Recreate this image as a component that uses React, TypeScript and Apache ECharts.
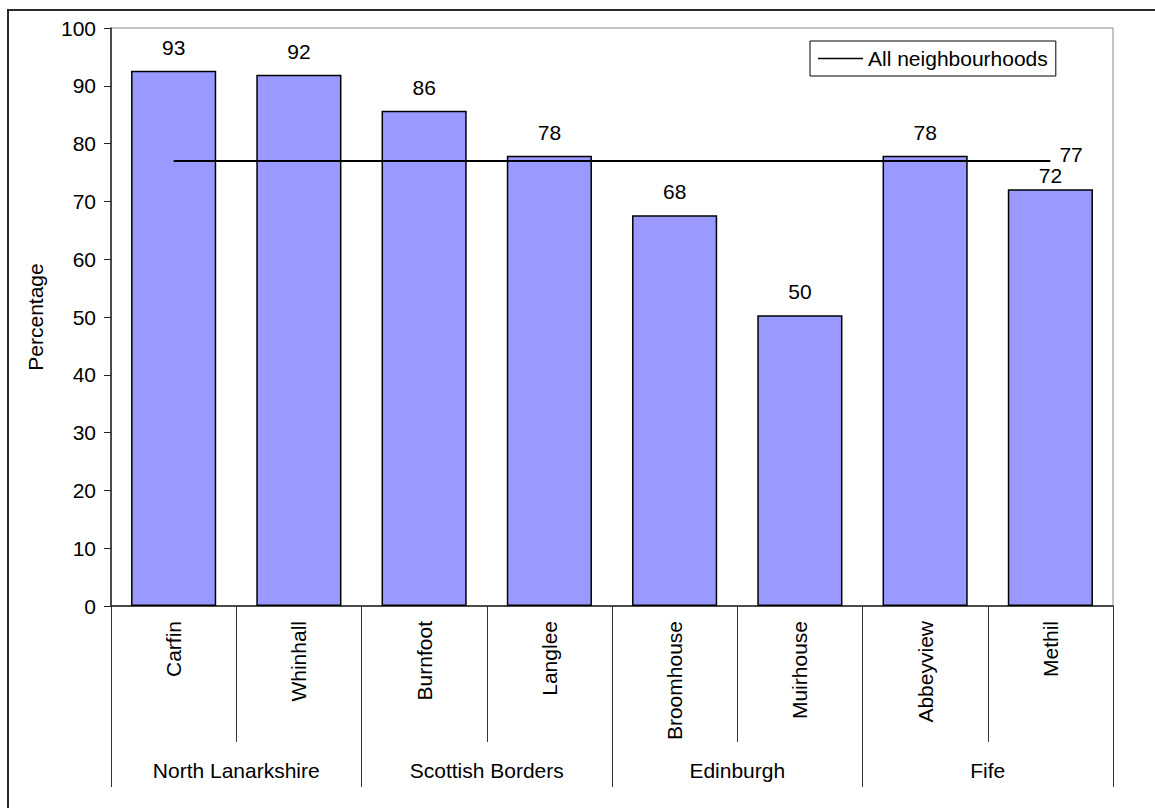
import React, { useEffect, useRef } from "react";
import * as echarts from "echarts";

const neighbourhoods = ["Carfin", "Whinhall", "Burnfoot", "Langlee", "Broomhouse", "Muirhouse", "Abbeyview", "Methil"];
const areas = ["North Lanarkshire", "Scottish Borders", "Edinburgh", "Fife"];
const percentages = [92.6, 91.9, 85.7, 77.9, 67.6, 50.3, 77.9, 72.1];
const allNeighbourhoods = [77, 77, 77, 77, 77, 77, 77, 77];
const yTicks = { min: 0, max: 100, interval: 10 };

const FONT = '"Liberation Sans", Arial, sans-serif';
const FS = 21;

export default function App() {
  const ref = useRef<HTMLDivElement>(null);
  useEffect(() => {
    if (!ref.current) return;
    const chart = echarts.init(ref.current, null, { renderer: "svg" });
    const barData = percentages.map((v, i) =>
      i === percentages.length - 1 ? { value: v, label: { distance: 3 } } : v
    );
    chart.setOption({
      animation: false,
      backgroundColor: "#ffffff",
      textStyle: { fontFamily: FONT, fontSize: FS, color: "#000" },
      graphic: [
        {
          type: "rect",
          shape: { x: 8, y: 10, width: 1200, height: 900 },
          style: { fill: "none", stroke: "#2a2a2a", lineWidth: 2 },
          silent: true,
          z: 0,
        },
      ],
      grid: {
        left: 111,
        right: 42,
        top: 28,
        bottom: 202,
        show: true,
        borderColor: "#8a8a8a",
        borderWidth: 1,
        backgroundColor: "transparent",
      },
      legend: {
        data: [{ name: "All neighbourhoods", icon: "rect" }],
        left: 810,
        top: 41,
        padding: [7, 8, 7, 8],
        itemWidth: 45,
        itemHeight: 1.5,
        itemGap: 5,
        itemStyle: { color: "#000" },
        borderColor: "#000",
        borderWidth: 1,
        textStyle: { fontFamily: FONT, fontSize: FS, color: "#000", padding: [0, 0, 0, 0] },
      },
      xAxis: [
        {
          type: "category",
          data: neighbourhoods,
          position: "bottom",
          axisLine: { show: true, lineStyle: { color: "#222", width: 1.5 } },
          axisTick: { show: true, interval: 0, length: 136, lineStyle: { color: "#333", width: 1 } },
          axisLabel: {
            interval: 0,
            rotate: 90,
            margin: 15,
            fontFamily: FONT,
            fontSize: FS,
            color: "#000",
          },
        },
        {
          type: "category",
          data: areas,
          position: "bottom",
          axisLine: { show: false },
          axisTick: { show: true, interval: 0, length: 181, lineStyle: { color: "#333", width: 1 } },
          axisLabel: {
            interval: 0,
            margin: 154,
            fontFamily: FONT,
            fontSize: FS,
            color: "#000",
          },
        },
      ],
      yAxis: {
        type: "value",
        min: yTicks.min,
        max: yTicks.max,
        interval: yTicks.interval,
        name: "Percentage",
        nameLocation: "middle",
        nameRotate: 90,
        nameGap: 65,
        nameTextStyle: { fontFamily: FONT, fontSize: FS, color: "#000" },
        axisLine: { show: true, lineStyle: { color: "#222", width: 1.5 } },
        axisTick: { show: true, inside: false, length: 7, lineStyle: { color: "#222" } },
        axisLabel: { margin: 15, fontFamily: FONT, fontSize: FS, color: "#000" },
        splitLine: { show: false },
      },
      series: [
        {
          name: "Percentage",
          type: "bar",
          xAxisIndex: 0,
          data: barData,
          barCategoryGap: "32%",
          itemStyle: { color: "#9999FF", borderColor: "#000", borderWidth: 1.5 },
          label: {
            show: true,
            position: "top",
            distance: 13,
            fontFamily: FONT,
            fontSize: FS,
            color: "#000",
            formatter: (p: any) => String(Math.round(p.value)),
          },
          z: 2,
        },
        {
          name: "All neighbourhoods",
          type: "line",
          xAxisIndex: 0,
          data: allNeighbourhoods,
          symbol: "none",
          lineStyle: { color: "#000", width: 2 },
          itemStyle: { color: "#000" },
          endLabel: {
            show: true,
            distance: 9,
            offset: [0, -6],
            fontFamily: FONT,
            fontSize: FS,
            color: "#000",
            formatter: (p: any) => String(p.value),
          },
          z: 3,
        },
      ],
    });
    return () => chart.dispose();
  }, []);
  return (
    <div
      ref={ref}
      style={{ position: "fixed", left: 0, top: 0, width: 1155, height: 808, background: "#fff" }}
    />
  );
}
